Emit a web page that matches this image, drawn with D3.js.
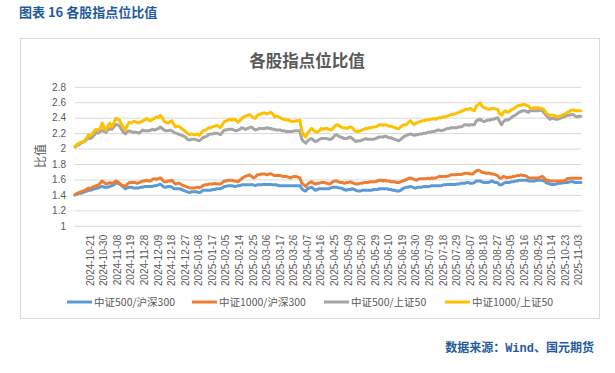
<!DOCTYPE html>
<html><head><meta charset="utf-8">
<script src="https://cdn.jsdelivr.net/npm/d3@7/dist/d3.min.js"></script>
<style>
html,body{margin:0;padding:0;background:#fff;}
svg{display:block;font-family:"Noto Sans CJK SC","Liberation Sans",sans-serif;}
</style></head>
<body><svg id="c" width="615" height="373"></svg>
<script>
const xTickLabels = ["2024-10-21","2024-10-30","2024-11-08","2024-11-19","2024-11-28","2024-12-09","2024-12-18","2024-12-27","2025-01-08","2025-01-17","2025-02-05","2025-02-14","2025-02-25","2025-03-06","2025-03-17","2025-03-26","2025-04-07","2025-04-16","2025-04-25","2025-05-09","2025-05-20","2025-05-29","2025-06-10","2025-06-19","2025-06-30","2025-07-09","2025-07-18","2025-07-29","2025-08-07","2025-08-18","2025-08-27","2025-09-05","2025-09-16","2025-09-25","2025-10-14","2025-10-23","2025-11-03"];
const yTicks = [1,1.2,1.4,1.6,1.8,2,2.2,2.4,2.6,2.8];
const seriesNames = ["中证500/沪深300","中证1000/沪深300","中证500/上证50","中证1000/上证50"];
const seriesColors = ["#5B9BD5","#ED7D31","#A5A5A5","#FFC000"];

const zz500_hs300 = [
1.40,1.41,1.42,1.42,1.43,1.44,1.45,1.46,1.46,1.47,
1.48,1.485,1.49,1.50,1.51,1.50,1.50,1.50,1.51,1.52,
1.53,1.55,1.55,1.54,1.52,1.50,1.48,1.49,1.50,1.50,
1.49,1.49,1.49,1.49,1.50,1.50,1.51,1.51,1.51,1.51,1.51,
1.52,1.52,1.53,1.54,1.52,1.50,1.50,1.51,1.51,1.50,
1.48,1.48,1.48,1.48,1.47,1.46,1.45,1.44,1.43,1.44,
1.44,1.44,1.44,1.43,1.44,1.46,1.46,1.46,1.46,1.46,1.47,
1.47,1.48,1.48,1.48,1.49,1.51,1.51,1.52,1.52,1.52,
1.51,1.51,1.52,1.52,1.53,1.53,1.53,1.53,1.53,1.535,
1.53,1.52,1.53,1.53,1.53,1.535,1.535,1.535,1.535,1.535,1.53,
1.53,1.53,1.52,1.52,1.52,1.52,1.52,1.52,1.52,1.52,
1.52,1.52,1.52,1.52,1.48,1.46,1.45,1.48,1.49,1.50,
1.48,1.46,1.47,1.48,1.48,1.48,1.48,1.48,1.48,1.49,
1.50,1.50,1.50,1.49,1.49,1.48,1.47,1.46,1.47,1.47,
1.48,1.47,1.46,1.45,1.45,1.46,1.46,1.46,1.46,1.46,
1.46,1.47,1.47,1.47,1.48,1.48,1.48,1.48,1.48,1.47,1.47,
1.46,1.46,1.45,1.45,1.46,1.48,1.49,1.50,1.50,1.51,
1.50,1.49,1.49,1.50,1.50,1.50,1.51,1.51,1.51,1.51,
1.52,1.52,1.52,1.52,1.52,1.52,1.53,1.53,1.535,1.535,
1.535,1.535,1.535,1.54,1.54,1.55,1.55,1.55,1.56,1.56,1.55,
1.55,1.56,1.58,1.58,1.58,1.57,1.56,1.56,1.56,1.57,
1.58,1.57,1.56,1.56,1.53,1.53,1.55,1.56,1.56,1.56,
1.57,1.57,1.58,1.58,1.59,1.59,1.59,1.59,1.59,1.58,
1.58,1.58,1.58,1.59,1.59,1.59,1.59,1.58,1.56,1.55,1.54,
1.535,1.535,1.54,1.55,1.55,1.55,1.56,1.56,1.56,1.57,
1.57,1.57,1.56,1.56,1.56,1.56];

const zz1000_hs300 = [
1.40,1.42,1.43,1.44,1.45,1.46,1.47,1.49,1.48,1.50,
1.51,1.52,1.53,1.55,1.58,1.56,1.54,1.55,1.56,1.55,
1.56,1.58,1.57,1.55,1.53,1.52,1.51,1.54,1.56,1.56,
1.56,1.56,1.55,1.56,1.57,1.58,1.58,1.59,1.58,1.58,1.60,
1.61,1.60,1.61,1.62,1.60,1.57,1.57,1.58,1.58,1.59,
1.56,1.54,1.55,1.55,1.53,1.52,1.51,1.50,1.49,1.49,
1.49,1.49,1.50,1.49,1.50,1.52,1.53,1.53,1.54,1.54,1.54,
1.55,1.54,1.54,1.54,1.56,1.58,1.58,1.59,1.59,1.59,
1.58,1.58,1.57,1.59,1.61,1.63,1.64,1.65,1.66,1.64,
1.62,1.63,1.66,1.66,1.67,1.67,1.67,1.66,1.67,1.675,1.66,
1.65,1.65,1.65,1.65,1.64,1.64,1.64,1.63,1.62,1.63,
1.64,1.64,1.63,1.62,1.55,1.53,1.51,1.54,1.56,1.57,
1.55,1.54,1.55,1.55,1.56,1.56,1.56,1.55,1.54,1.55,
1.57,1.58,1.58,1.57,1.56,1.56,1.55,1.56,1.56,1.57,
1.56,1.55,1.54,1.54,1.55,1.55,1.56,1.56,1.56,1.57,
1.57,1.57,1.57,1.58,1.59,1.59,1.58,1.59,1.58,1.58,1.57,
1.57,1.57,1.56,1.56,1.57,1.58,1.59,1.60,1.615,1.62,
1.61,1.60,1.59,1.60,1.61,1.61,1.61,1.61,1.615,1.61,
1.62,1.615,1.62,1.63,1.64,1.64,1.64,1.64,1.64,1.65,
1.66,1.66,1.66,1.665,1.665,1.665,1.67,1.68,1.68,1.68,1.67,
1.67,1.69,1.71,1.72,1.71,1.69,1.69,1.68,1.68,1.68,
1.67,1.67,1.66,1.65,1.62,1.615,1.64,1.63,1.62,1.63,
1.63,1.64,1.64,1.65,1.65,1.66,1.65,1.65,1.64,1.62,
1.62,1.62,1.62,1.62,1.62,1.63,1.64,1.62,1.59,1.59,1.58,
1.58,1.58,1.58,1.58,1.58,1.58,1.58,1.59,1.61,1.615,
1.615,1.615,1.615,1.615,1.615,1.615];

const zz500_sz50 = [
2.02,2.04,2.05,2.07,2.08,2.09,2.12,2.14,2.13,2.15,
2.18,2.21,2.20,2.22,2.24,2.22,2.21,2.24,2.26,2.25,
2.28,2.31,2.31,2.29,2.25,2.21,2.19,2.22,2.23,2.22,
2.21,2.21,2.21,2.20,2.22,2.24,2.23,2.23,2.23,2.24,2.25,
2.24,2.25,2.26,2.28,2.26,2.24,2.23,2.23,2.24,2.23,
2.21,2.20,2.19,2.18,2.17,2.16,2.15,2.12,2.11,2.12,
2.12,2.12,2.11,2.10,2.12,2.14,2.15,2.16,2.18,2.19,2.19,
2.20,2.20,2.19,2.18,2.21,2.24,2.24,2.25,2.25,2.25,
2.24,2.23,2.24,2.25,2.27,2.26,2.25,2.26,2.27,2.28,
2.26,2.24,2.25,2.26,2.26,2.26,2.26,2.27,2.26,2.26,2.25,
2.25,2.24,2.24,2.24,2.23,2.23,2.22,2.22,2.22,2.22,
2.23,2.23,2.23,2.23,2.12,2.09,2.07,2.10,2.12,2.13,
2.11,2.09,2.10,2.12,2.13,2.13,2.13,2.13,2.12,2.12,
2.14,2.17,2.18,2.16,2.15,2.14,2.13,2.13,2.14,2.15,
2.13,2.11,2.09,2.10,2.10,2.11,2.12,2.13,2.12,2.12,
2.12,2.12,2.13,2.14,2.15,2.15,2.15,2.16,2.15,2.14,2.14,
2.13,2.12,2.11,2.10,2.12,2.14,2.16,2.17,2.18,2.19,
2.18,2.17,2.18,2.18,2.19,2.19,2.20,2.20,2.21,2.21,
2.22,2.22,2.23,2.24,2.24,2.23,2.24,2.25,2.26,2.26,
2.27,2.27,2.27,2.27,2.28,2.28,2.29,2.31,2.31,2.30,2.31,
2.31,2.31,2.36,2.37,2.38,2.36,2.35,2.36,2.37,2.37,
2.38,2.38,2.39,2.40,2.35,2.31,2.35,2.37,2.37,2.38,
2.40,2.42,2.43,2.45,2.47,2.48,2.49,2.49,2.48,2.47,
2.50,2.49,2.49,2.49,2.49,2.50,2.49,2.46,2.43,2.40,2.38,
2.39,2.39,2.38,2.38,2.39,2.40,2.41,2.42,2.43,2.43,
2.44,2.44,2.42,2.41,2.42,2.42];

const zz1000_sz50 = [
2.03,2.05,2.07,2.08,2.09,2.10,2.14,2.18,2.17,2.19,
2.23,2.25,2.24,2.26,2.33,2.27,2.24,2.30,2.33,2.28,
2.33,2.39,2.38,2.37,2.31,2.27,2.24,2.30,2.34,2.33,
2.35,2.35,2.34,2.33,2.35,2.36,2.37,2.39,2.37,2.36,2.38,
2.39,2.41,2.40,2.43,2.40,2.35,2.34,2.33,2.35,2.36,
2.31,2.28,2.29,2.28,2.26,2.24,2.22,2.20,2.18,2.19,
2.18,2.18,2.19,2.17,2.20,2.23,2.24,2.25,2.27,2.27,2.28,
2.29,2.30,2.29,2.27,2.31,2.35,2.36,2.37,2.38,2.37,
2.38,2.37,2.34,2.36,2.39,2.41,2.42,2.43,2.44,2.42,
2.40,2.39,2.43,2.44,2.45,2.46,2.46,2.45,2.46,2.47,2.45,
2.41,2.42,2.41,2.40,2.38,2.38,2.37,2.37,2.36,2.35,
2.35,2.36,2.36,2.37,2.22,2.18,2.15,2.20,2.23,2.26,
2.24,2.22,2.21,2.23,2.26,2.25,2.26,2.26,2.25,2.24,
2.26,2.29,2.31,2.30,2.28,2.27,2.27,2.26,2.27,2.28,
2.27,2.24,2.22,2.22,2.23,2.24,2.25,2.26,2.26,2.27,
2.27,2.28,2.28,2.29,2.31,2.31,2.30,2.31,2.30,2.29,2.29,
2.28,2.27,2.26,2.26,2.28,2.30,2.31,2.31,2.34,2.36,
2.33,2.31,2.33,2.34,2.35,2.36,2.36,2.37,2.37,2.38,
2.38,2.39,2.38,2.39,2.40,2.40,2.41,2.41,2.42,2.43,
2.44,2.44,2.45,2.46,2.47,2.48,2.49,2.50,2.51,2.51,2.52,
2.50,2.49,2.55,2.57,2.59,2.55,2.53,2.52,2.51,2.51,
2.52,2.52,2.51,2.51,2.45,2.43,2.47,2.49,2.47,2.48,
2.50,2.51,2.53,2.55,2.56,2.56,2.57,2.57,2.56,2.55,
2.52,2.52,2.53,2.53,2.53,2.52,2.52,2.50,2.46,2.44,2.43,
2.43,2.43,2.42,2.41,2.42,2.43,2.44,2.45,2.47,2.48,
2.50,2.50,2.49,2.49,2.49,2.49];

const allSeries = [zz500_hs300, zz1000_hs300, zz500_sz50, zz1000_sz50];
const N = zz500_hs300.length;
const labelStep = 7, labelStart = 5;

const svg = d3.select("#c");
const plot = {l:75, r:581, t:86.8, b:225.8};

// header
svg.append("text").attr("x",19).attr("y",17).attr("fill","#1F5A9E")
  .attr("font-size",13).attr("font-weight","bold").text("图表 16 各股指点位比值");

// chart box
svg.append("rect").attr("x",20.5).attr("y",38.5).attr("width",579).attr("height",280)
  .attr("fill","#fff").attr("stroke","#D9D9D9");

// chart title
svg.append("text").attr("x",307).attr("y",67).attr("text-anchor","middle")
  .attr("fill","#595959").attr("font-size",16.5).attr("font-weight","bold").text("各股指点位比值");

const x = d3.scaleLinear().domain([0, N-1]).range([plot.l, plot.r]);
const y = d3.scaleLinear().domain([1, 2.8]).range([plot.b, plot.t]);

// gridlines
const grid = svg.append("g").attr("transform",`translate(${plot.l},0)`)
  .call(d3.axisLeft(y).tickValues(yTicks).tickSize(-(plot.r-plot.l)).tickFormat(""));
grid.select(".domain").remove();
grid.selectAll("line").attr("stroke","#D9D9D9").attr("stroke-width",1);

// y labels
const yAx = svg.append("g").attr("transform",`translate(${plot.l},0)`)
  .call(d3.axisLeft(y).tickValues(yTicks).tickSize(0).tickPadding(9).tickFormat(d=>String(d)));
yAx.select(".domain").remove();
yAx.selectAll("text").attr("fill","#595959").attr("font-size",10)
  .attr("font-family","'Liberation Sans',sans-serif");

// y title
svg.append("text").attr("transform","translate(45,156) rotate(-90)").attr("text-anchor","middle")
  .attr("fill","#595959").attr("font-size",12).text("比值");

// x labels
const tickIdx = xTickLabels.map((d,i)=>labelStart + i*labelStep);
const xAx = svg.append("g").attr("transform",`translate(0,${plot.b})`)
  .call(d3.axisBottom(x).tickValues(tickIdx).tickSize(0).tickFormat((d,i)=>xTickLabels[i]));
xAx.select(".domain").remove();
xAx.selectAll(".tick text")
  .attr("transform","translate(5,0) rotate(-90)")
  .attr("text-anchor","end").attr("x",-9).attr("y",0).attr("dy","0.35em")
  .attr("fill","#595959").attr("font-size",10)
  .attr("font-family","'Liberation Sans',sans-serif");

// lines
const line = d3.line().x((d,i)=>x(i)).y(d=>y(d));
allSeries.forEach((s,k)=>{
  svg.append("path").datum(s).attr("d",line).attr("fill","none")
    .attr("stroke",seriesColors[k]).attr("stroke-width",3)
    .attr("stroke-linejoin","round").attr("stroke-linecap","round");
});

// legend
const legX = [67,192,324,445];
const leg = svg.append("g");
seriesNames.forEach((n,k)=>{
  const g = leg.append("g").attr("transform",`translate(${legX[k]},302)`);
  g.append("line").attr("x1",0).attr("x2",25).attr("y1",0).attr("y2",0)
    .attr("stroke",seriesColors[k]).attr("stroke-width",3);
  g.append("text").attr("x",27).attr("y",0).attr("dy","0.35em")
    .attr("fill","#595959").attr("font-size",10.5).text(n);
});

// footer
const ft = svg.append("text").attr("x",594).attr("y",352).attr("text-anchor","end")
  .attr("fill","#1F5A9E").attr("font-size",12).attr("font-weight","bold");
ft.append("tspan").text("数据来源：");
ft.append("tspan").attr("font-family","'Liberation Mono',monospace").text("Wind");
ft.append("tspan").text("、国元期货");
</script></body></html>
